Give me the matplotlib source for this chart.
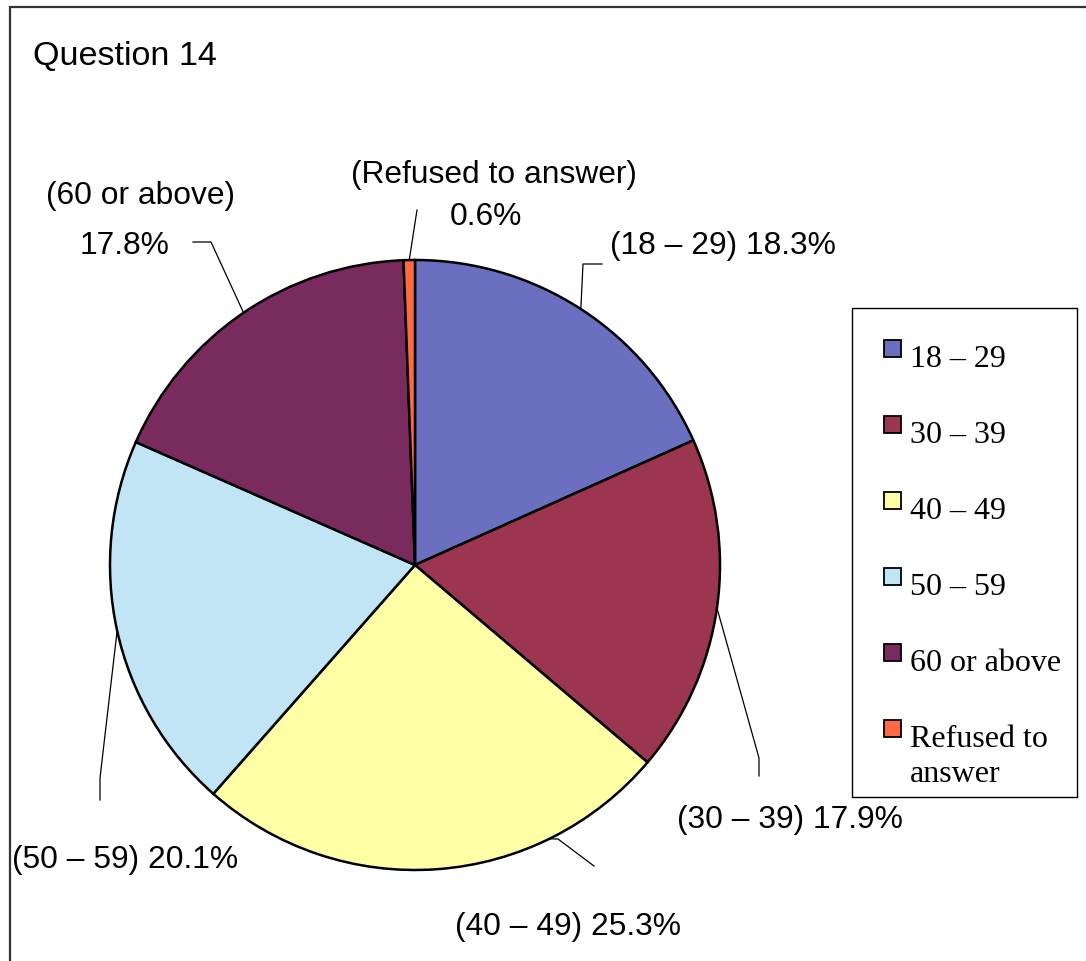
import numpy as np
import matplotlib
matplotlib.use("Agg")
import matplotlib.pyplot as plt
from matplotlib.patches import Rectangle

# ---- data ----
categories = ["18 – 29", "30 – 39", "40 – 49", "50 – 59", "60 or above", "Refused to answer"]
legend_labels = ["18 – 29", "30 – 39", "40 – 49", "50 – 59", "60 or above", "Refused to\nanswer"]
values = [18.3, 17.9, 25.3, 20.1, 17.8, 0.6]
colors = ["#6A6FBF", "#9B3550", "#FFFFA6", "#C2E5F5", "#7A2B5E", "#FF6A45"]
title = "Question 14"

# ---- layout (pixels) ----
W, H = 1086, 961
CX, CY, R = 415, 565, 305
SANS = "Liberation Sans"
SERIF = "Liberation Serif"

fig = plt.figure(figsize=(W / 100, H / 100), dpi=100)
fig.patch.set_facecolor("white")

# pie axes
pad = 1.03
axp = fig.add_axes([(CX - R * pad) / W, (H - CY - R * pad) / H, 2 * R * pad / W, 2 * R * pad / H])
axp.pie(values, colors=colors, startangle=90, counterclock=False, radius=1,
        wedgeprops=dict(edgecolor="black", linewidth=1.8))
axp.set_xlim(-pad, pad)
axp.set_ylim(-pad, pad)
axp.set_aspect("equal")
axp.axis("off")

# overlay axes in pixel coordinates
ax = fig.add_axes([0, 0, 1, 1])
ax.set_xlim(0, W)
ax.set_ylim(H, 0)
ax.axis("off")

# frame (top and left edges visible)
ax.plot([10, 10, W + 5], [H + 5, 7, 7], color="#333333", lw=1.6, solid_joinstyle="miter")

ax.text(33, 65, title, fontsize=24.6, family=SANS, ha="left", va="baseline")

# anchor angles from data
total = sum(values)
cum = np.cumsum([0] + values[:-1])
mids = [90 - 360 * (c + v / 2) / total for c, v in zip(cum, values)]
anchor_shift = [0, 0, 22, 0, 0, 0]

def anchor(i):
    a = np.deg2rad(mids[i] + anchor_shift[i])
    return CX + R * np.cos(a), CY - R * np.sin(a)

leader_paths = [
    [(583, 264), (602, 264)],
    [(759, 758), (759, 776)],
    [(558, 839), (594, 866)],
    [(100, 778), (100, 800)],
    [(211, 242), (193, 242)],
    [(417, 210)],
]
for i, path in enumerate(leader_paths):
    pts = [anchor(i)] + path
    xs, ys = zip(*pts)
    ax.plot(xs, ys, color="black", lw=0.9)

pct = [f"{v:.1f}%" for v in values]
fs = 22.9
ax.text(610, 254, f"({categories[0]}) {pct[0]}", fontsize=fs, family=SANS, ha="left", va="baseline")
ax.text(677, 828, f"({categories[1]}) {pct[1]}", fontsize=fs, family=SANS, ha="left", va="baseline")
ax.text(455, 935, f"({categories[2]}) {pct[2]}", fontsize=fs, family=SANS, ha="left", va="baseline")
ax.text(12, 868, f"({categories[3]}) {pct[3]}", fontsize=fs, family=SANS, ha="left", va="baseline")
ax.text(141, 204, f"({categories[4]})", fontsize=fs, family=SANS, ha="center", va="baseline")
ax.text(125, 254, pct[4], fontsize=fs, family=SANS, ha="center", va="baseline")
ax.text(494, 183, f"({categories[5]})", fontsize=fs, family=SANS, ha="center", va="baseline")
ax.text(486, 225, pct[5], fontsize=fs, family=SANS, ha="center", va="baseline")

# legend
ax.add_patch(Rectangle((852, 308), 225, 489, facecolor="white", edgecolor="black", lw=1.0))
for i, (lab, col) in enumerate(zip(legend_labels, colors)):
    base = 367 + 76 * i
    ax.add_patch(Rectangle((884, base - 27), 17, 17, facecolor=col, edgecolor="black", lw=1.3))
    for j, line in enumerate(lab.split("\n")):
        ax.text(910, base + 35 * j, line, fontsize=23, family=SERIF, ha="left", va="baseline")

fig.savefig("out.png", dpi=100, facecolor="white")
